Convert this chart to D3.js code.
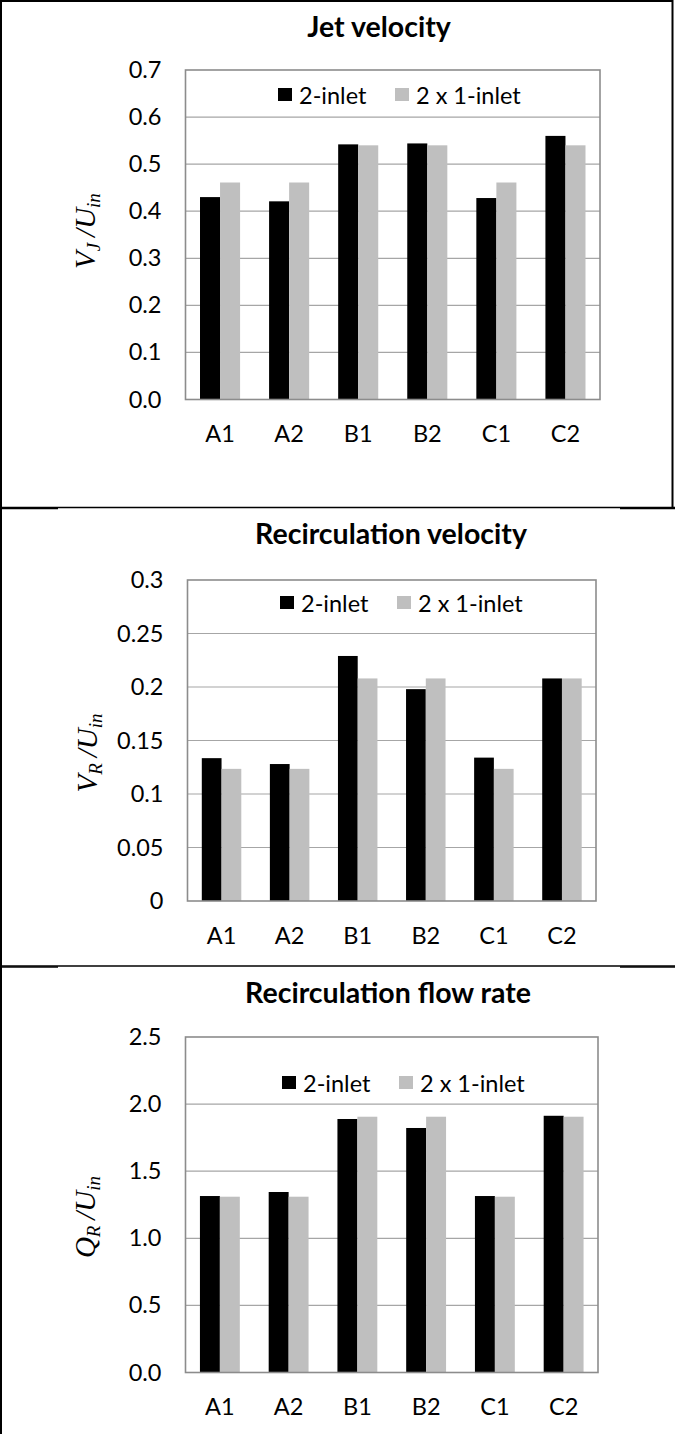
<!DOCTYPE html>
<html>
<head>
<meta charset="utf-8">
<script src="https://cdn.jsdelivr.net/npm/d3@7/dist/d3.min.js"></script>
<style>
  html, body { margin: 0; padding: 0; background: #fff; }
  svg { display: block; }
</style>
</head>
<body>
<svg id="chart" width="675" height="1434"></svg>
<script>
// ---------------- data ----------------
const categories = ["A1", "A2", "B1", "B2", "C1", "C2"];
const seriesNames = ["2-inlet", "2 x 1-inlet"];

const jetTwoInlet = [0.430, 0.421, 0.542, 0.544, 0.428, 0.560];
const jetOneInlet = [0.461, 0.461, 0.540, 0.540, 0.461, 0.540];

const recVelTwoInlet = [0.1335, 0.128, 0.229, 0.198, 0.134, 0.208];
const recVelOneInlet = [0.1235, 0.1235, 0.208, 0.208, 0.1235, 0.208];

const recFlowTwoInlet = [1.315, 1.345, 1.889, 1.822, 1.315, 1.913];
const recFlowOneInlet = [1.31, 1.31, 1.906, 1.906, 1.31, 1.906];

const jetTicks = [0, 0.1, 0.2, 0.3, 0.4, 0.5, 0.6, 0.7];
const recVelTicks = [0, 0.05, 0.1, 0.15, 0.2, 0.25, 0.3];
const recFlowTicks = [0, 0.5, 1.0, 1.5, 2.0, 2.5];

const titles = ["Jet velocity", "Recirculation velocity", "Recirculation flow rate"];

// ---------------- layout ----------------
const colors = ["#000000", "#bfbfbf"];
const svg = d3.select("#chart");

const panels = [
  {
    title: titles[0], two: jetTwoInlet, one: jetOneInlet, ticks: jetTicks,
    fmt: d3.format(".1f"),
    left: 185.5, right: 600, top: 70, bottom: 399.5,
    titleY: 27, titleX: 379, legendX: 278, legendY: 96,
    ylab: { main: "V", sub: "J", cx: 86, cy: 231 }
  },
  {
    title: titles[1], two: recVelTwoInlet, one: recVelOneInlet, ticks: recVelTicks,
    fmt: d => d3.format("")(+d.toFixed(2)),
    left: 187.5, right: 596, top: 580, bottom: 901,
    titleY: 534, titleX: 391, legendX: 280, legendY: 604,
    ylab: { main: "V", sub: "R", cx: 88, cy: 753 }
  },
  {
    title: titles[2], two: recFlowTwoInlet, one: recFlowOneInlet, ticks: recFlowTicks,
    fmt: d3.format(".1f"),
    left: 185.5, right: 598, top: 1037, bottom: 1372.5,
    titleY: 993, titleX: 388, legendX: 282, legendY: 1084,
    ylab: { main: "Q", sub: "R", cx: 86, cy: 1217 }
  }
];

const FONT = "Lato, 'Open Sans', sans-serif";

function drawPanel(p) {
  const g = svg.append("g");
  const yMax = d3.max(p.ticks);
  const x = d3.scaleBand().domain(categories).range([p.left, p.right]).padding(0);
  const xs = d3.scaleBand().domain(seriesNames).range([0, x.bandwidth()])
    .paddingInner(0).paddingOuter(0.724);
  const y = d3.scaleLinear().domain([0, yMax]).range([p.bottom, p.top]);

  // gridlines
  g.append("g").selectAll("line").data(p.ticks.filter(t => t > 0 && t < yMax)).join("line")
    .attr("x1", p.left).attr("x2", p.right)
    .attr("y1", d => y(d)).attr("y2", d => y(d))
    .attr("stroke", "#a6a6a6").attr("stroke-width", 1.2);

  // bars
  const rows = categories.map((c, i) => ({ cat: c, vals: [p.two[i], p.one[i]] }));
  const grp = g.append("g").selectAll("g").data(rows).join("g")
    .attr("transform", d => `translate(${x(d.cat)},0)`);
  grp.selectAll("rect").data(d => d.vals.map((v, k) => ({ v, s: seriesNames[k], k })))
    .join("rect")
    .attr("x", d => xs(d.s)).attr("width", xs.bandwidth())
    .attr("y", d => y(d.v)).attr("height", d => y(0) - y(d.v))
    .attr("fill", d => colors[d.k]);

  // plot border
  g.append("rect")
    .attr("x", p.left).attr("y", p.top)
    .attr("width", p.right - p.left).attr("height", p.bottom - p.top)
    .attr("fill", "none").attr("stroke", "#8c8c8c").attr("stroke-width", 1.6);

  // y axis labels
  const yAxis = d3.axisLeft(y).tickValues(p.ticks).tickFormat(p.fmt).tickSize(0).tickPadding(24);
  const ya = g.append("g").attr("transform", `translate(${p.left},0)`).call(yAxis);
  ya.select(".domain").remove();
  ya.selectAll("text").attr("font-family", FONT).attr("font-size", 23.5).attr("fill", "#000");

  // x axis labels
  const xAxis = d3.axisBottom(x).tickSize(0).tickPadding(26);
  const xa = g.append("g").attr("transform", `translate(0,${p.bottom})`).call(xAxis);
  xa.select(".domain").remove();
  xa.selectAll("text").attr("font-family", FONT).attr("font-size", 23.5).attr("fill", "#000");

  // title
  g.append("text").attr("x", p.titleX).attr("y", p.titleY).attr("dy", "0.36em")
    .attr("text-anchor", "middle").attr("font-family", FONT).attr("font-weight", "bold")
    .attr("font-size", 28.5).text(p.title);

  // legend
  const leg = g.append("g").attr("transform", `translate(${p.legendX},${p.legendY})`);
  const offsets = [0, 117];
  seriesNames.forEach((s, k) => {
    const lg = leg.append("g").attr("transform", `translate(${offsets[k]},0)`);
    lg.append("rect").attr("x", 0).attr("y", -8).attr("width", 14).attr("height", 13)
      .attr("fill", colors[k]);
    lg.append("text").attr("x", 21).attr("y", 0).attr("dy", "0.34em")
      .attr("font-family", FONT).attr("font-size", 23.5).text(s);
  });

  // y axis title (math italic)
  const yt = g.append("text")
    .attr("transform", `translate(${p.ylab.cx},${p.ylab.cy}) rotate(-90)`)
    .attr("text-anchor", "middle").attr("dy", "0.3em")
    .attr("font-family", "'Liberation Serif', 'DejaVu Serif', serif")
    .attr("font-style", "italic").attr("font-size", 29);
  yt.append("tspan").text(p.ylab.main);
  yt.append("tspan").attr("font-size", 19).attr("dy", 5).text(p.ylab.sub);
  yt.append("tspan").attr("dy", -5).text("\u2009/");
  yt.append("tspan").text("U");
  yt.append("tspan").attr("font-size", 19).attr("dy", 5).text("in");
}

panels.forEach(drawPanel);

// frame lines
const frame = svg.append("g").attr("stroke", "#000").attr("fill", "none");
frame.append("line").attr("x1", 1).attr("x2", 1).attr("y1", 0).attr("y2", 1434).attr("stroke-width", 2);
frame.append("line").attr("x1", 0).attr("x2", 673).attr("y1", 1).attr("y2", 1).attr("stroke-width", 2);
frame.append("line").attr("x1", 672.5).attr("x2", 672.5).attr("y1", 0).attr("y2", 508).attr("stroke-width", 2);
[507.5, 966].forEach(yy => {
  frame.append("line").attr("x1", 0).attr("x2", 675).attr("y1", yy).attr("y2", yy).attr("stroke-width", 1.6);
  frame.append("line").attr("x1", 0).attr("x2", 58).attr("y1", yy + 1).attr("y2", yy + 1).attr("stroke-width", 1.6);
  frame.append("line").attr("x1", 620).attr("x2", 675).attr("y1", yy + 1).attr("y2", yy + 1).attr("stroke-width", 1.6);
});
</script>
</body>
</html>
